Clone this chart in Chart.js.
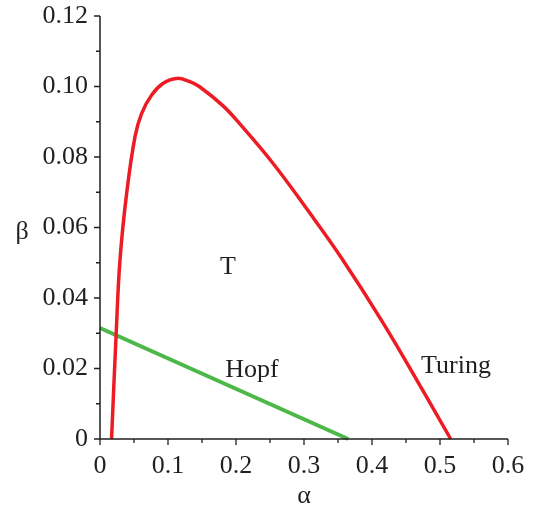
<!DOCTYPE html>
<html>
<head>
<meta charset="utf-8">
<script src="https://cdn.jsdelivr.net/npm/chart.js@4/dist/chart.umd.min.js"></script>
<style>
html,body{margin:0;padding:0;background:#fff;}
#c{display:block;}
</style>
</head>
<body>
<canvas id="c" width="538" height="513"></canvas>
<script>
// Turing curve (red): alpha, beta
const turingAlpha = [0.017, 0.0238, 0.0294, 0.0392, 0.0515, 0.0613, 0.076, 0.093, 0.1127, 0.132, 0.146, 0.181, 0.206, 0.254, 0.304, 0.3554, 0.4167, 0.48, 0.5157];
const turingBeta  = [0.0, 0.030, 0.0508, 0.0697, 0.0858, 0.0924, 0.0976, 0.1009, 0.1023, 0.1014, 0.1000, 0.0945, 0.0893, 0.0783, 0.0653, 0.0513, 0.0328, 0.012, 0.0];
// Hopf line (green)
const hopfAlpha = [0.0, 0.365];
const hopfBeta  = [0.0315, 0.0];
// tick labels
const xTickValues = [0, 0.1, 0.2, 0.3, 0.4, 0.5, 0.6];
const xTickLabels = ["0", "0.1", "0.2", "0.3", "0.4", "0.5", "0.6"];
const yTickValues = [0, 0.02, 0.04, 0.06, 0.08, 0.10, 0.12];
const yTickLabels = ["0", "0.02", "0.04", "0.06", "0.08", "0.10", "0.12"];
const xMinorTicks = [0.05, 0.15, 0.25, 0.35, 0.45, 0.55];
const yMinorTicks = [0.01, 0.03, 0.05, 0.07, 0.09, 0.11];
// region labels
const regionLabels = ["T", "Hopf", "Turing"];
const regionAlpha = [0.188, 0.2235, 0.5235];
const regionBeta = [0.0488, 0.0196, 0.0207];

const FONT = '"Liberation Serif", "Times New Roman", serif';
const TEXT = '#231f20';

function pts(xs, ys){ return xs.map((x,i)=>({x:x, y:ys[i]})); }

const extras = {
  id: 'extras',
  afterDraw(chart){
    const ctx = chart.ctx;
    const xs = chart.scales.x, ys = chart.scales.y;
    const ca = chart.chartArea;
    ctx.save();
    ctx.strokeStyle = TEXT;
    ctx.lineWidth = 1.3;
    // ticks
    ctx.beginPath();
    xTickValues.forEach(v=>{ const p = xs.getPixelForValue(v); ctx.moveTo(p, ca.bottom); ctx.lineTo(p, ca.bottom+6); });
    xMinorTicks.forEach(v=>{ const p = xs.getPixelForValue(v); ctx.moveTo(p, ca.bottom); ctx.lineTo(p, ca.bottom+4); });
    yTickValues.forEach(v=>{ const p = ys.getPixelForValue(v); ctx.moveTo(ca.left, p); ctx.lineTo(ca.left-6, p); });
    yMinorTicks.forEach(v=>{ const p = ys.getPixelForValue(v); ctx.moveTo(ca.left, p); ctx.lineTo(ca.left-4, p); });
    ctx.stroke();
    // axis lines
    ctx.lineWidth = 1.5;
    ctx.beginPath();
    ctx.moveTo(ca.left, ys.getPixelForValue(0.12));
    ctx.lineTo(ca.left, ca.bottom);
    ctx.lineTo(xs.getPixelForValue(0.6), ca.bottom);
    ctx.stroke();
    // region labels
    ctx.fillStyle = TEXT;
    ctx.font = '26px ' + FONT;
    ctx.textAlign = 'center';
    ctx.textBaseline = 'middle';
    regionLabels.forEach((t,i)=>{
      ctx.fillText(t, xs.getPixelForValue(regionAlpha[i]), ys.getPixelForValue(regionBeta[i]));
    });
    // axis titles
    ctx.font = '26px ' + FONT;
    ctx.fillText('α', xs.getPixelForValue(0.3), 496);
    ctx.fillText('β', 22, 232);
    ctx.restore();
  }
};

new Chart(document.getElementById('c'), {
  type: 'scatter',
  data: {
    datasets: [
      {
        label: 'Turing',
        data: pts(turingAlpha, turingBeta),
        showLine: true,
        borderColor: '#ed1c24',
        backgroundColor: '#ed1c24',
        borderWidth: 3.5,
        pointRadius: 0,
        tension: 0.4,
        clip: false
      },
      {
        label: 'Hopf',
        data: pts(hopfAlpha, hopfBeta),
        showLine: true,
        borderColor: '#4cb848',
        backgroundColor: '#4cb848',
        borderWidth: 4,
        pointRadius: 0,
        clip: false
      }
    ]
  },
  options: {
    responsive: false,
    animation: false,
    devicePixelRatio: 1,
    layout: { padding: { left: 0, right: 30, top: 16, bottom: 0 } },
    plugins: { legend: { display: false }, tooltip: { enabled: false } },
    scales: {
      x: {
        type: 'linear',
        min: 0, max: 0.6,
        afterBuildTicks(scale){ scale.ticks = xTickValues.map(v=>({value:v})); },
        afterFit(scale){ scale.height = 74; scale.paddingLeft = 0; scale.paddingRight = 0; },
        grid: { display: false, drawTicks: false },
        border: { display: false },
        ticks: {
          padding: 12,
          maxRotation: 0,
          autoSkip: false,
          color: TEXT,
          font: { family: FONT, size: 26 },
          callback(v, i){ return xTickLabels[i]; }
        }
      },
      y: {
        type: 'linear',
        min: 0, max: 0.12,
        afterBuildTicks(scale){ scale.ticks = yTickValues.map(v=>({value:v})); },
        afterFit(scale){ scale.width = 100; scale.paddingTop = 0; scale.paddingBottom = 0; },
        grid: { display: false, drawTicks: false },
        border: { display: false },
        ticks: {
          padding: 12,
          autoSkip: false,
          color: TEXT,
          font: { family: FONT, size: 26 },
          callback(v, i){ return yTickLabels[i]; }
        }
      }
    }
  },
  plugins: [extras]
});
</script>
</body>
</html>
